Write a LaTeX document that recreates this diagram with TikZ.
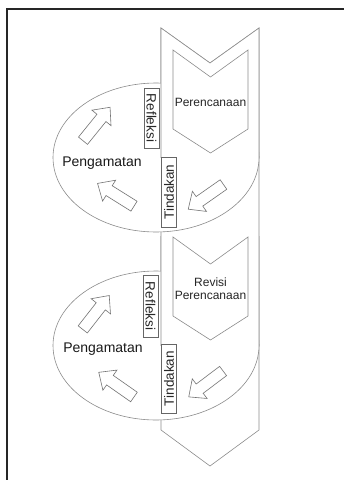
\documentclass[tikz,border=0pt]{standalone}
\usepackage{fontspec}
\setmainfont{Liberation Sans}
\usetikzlibrary{shapes.arrows}
% outline of the long chevron column
\newcommand{\colpath}{\draw[line] (161,28) -- (210,63) -- (259,28) -- (259,430) -- (210,466) -- (161,430) -- cycle;}
\begin{document}
\begin{tikzpicture}[x=1pt,y=-1pt,
    line/.style={draw=black!45,fill=white,line width=.6pt},
    lbl/.style={text=black!85,font=\fontsize{12}{13}\selectfont,align=center},
    obs/.style={text=black!90,font=\fontsize{14}{14}\selectfont},
    tag/.style={draw=black!60,fill=white,line width=.6pt,inner sep=0pt,minimum height=15pt,
                text=black!85,font=\fontsize{13.5}{13.5}\selectfont},
    blk/.style={single arrow,draw=black!55,fill=white,line width=.6pt,inner sep=5.5pt,
                single arrow head extend=6.5pt,single arrow tip angle=84,minimum height=43pt}]
  \useasboundingbox (0,0) rectangle (344,480);
  \draw[line width=1.6pt,black!85] (7,480) -- (7,9) -- (344,9);
  \colpath
  % each cycle: ellipse in front, upper part of the column over it again
  \foreach \c/\lo in {157.5/0,345.5/236}{
    \draw[line] (156,\c) ellipse [x radius=103pt,y radius=74.5pt];
    \begin{scope}
      \clip (0,\lo) rectangle (344,\c);
      \colpath
    \end{scope}
  }
  \foreach \t in {50,237}
    \draw[line] (173,\t) -- (210.5,\t+27) -- (248,\t) -- (248,\t+79) -- (210.5,\t+103) -- (173,\t+79) -- cycle;
  \node[lbl] (plan) at (210.5,102) {Perencanaan};
  \node[lbl] (revplan) at (210.5,289) {Revisi\\Perencanaan};
  \node[obs] (obs1) at (102,163) {Pengamatan};
  \node[obs] (obs2) at (103,349) {Pengamatan};
  \node[tag,rotate=-90,minimum width=60pt] (refl1) at (151.5,118) {Refleksi};
  \node[tag,rotate=90,minimum width=70pt] (act1) at (169,192) {Tindakan};
  \node[tag,rotate=-90,minimum width=62pt] (refl2) at (150.5,306) {Refleksi};
  \node[tag,rotate=90,minimum width=69pt] (act2) at (169,378.5) {Tindakan};
  % block arrows round each ellipse
  \node[blk,rotate=51] (up1) at (94.5,126.5) {};
  \node[blk,rotate=148] (back1) at (118.5,196.5) {};
  \node[blk,rotate=215] (down1) at (208.5,195) {};
  \node[blk,rotate=52] (up2) at (94,315) {};
  \node[blk,rotate=145] (back2) at (119,386.5) {};
  \node[blk,rotate=217] (down2) at (208.5,382) {};
\end{tikzpicture}
\end{document}
